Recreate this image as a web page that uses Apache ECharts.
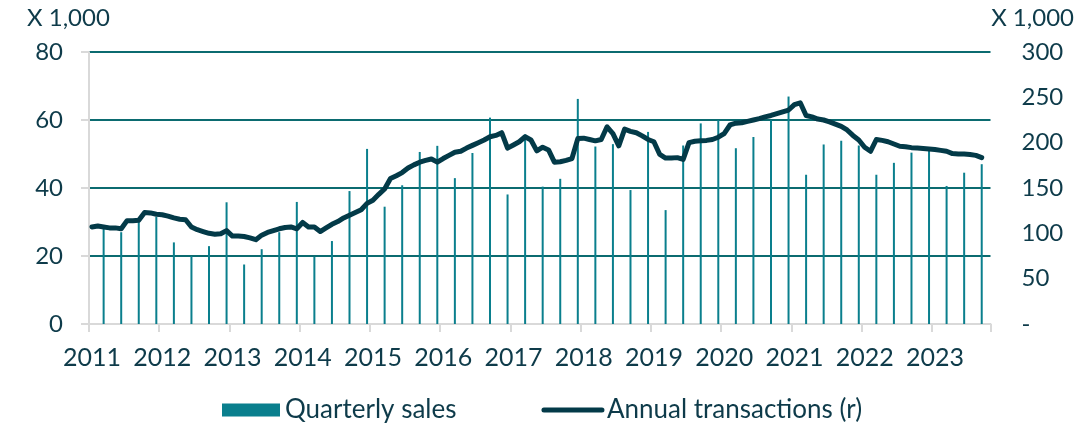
<!DOCTYPE html>
<html>
<head>
<meta charset="utf-8">
<script src="https://cdn.jsdelivr.net/npm/echarts@6/dist/echarts.min.js"></script>
<style>
  html, body { margin: 0; padding: 0; background: #ffffff; }
  #chart { width: 1076px; height: 423px; }
</style>
</head>
<body>
<div id="chart"></div>
<script>
// Year labels on the horizontal axis (one per January)
const yearLabels = ['2011', '2012', '2013', '2014', '2015', '2016', '2017',
                    '2018', '2019', '2020', '2021', '2022', '2023'];
// Number of monthly slots shown on the axis (Jan 2011 - Oct 2023)
const monthCount = 154;

// Quarterly sales (x 1,000), Q1 2011 - Q3 2023, left axis
const quarterlySales = [
  28.0, 27.0, 30.0, 31.5,   // 2011
  24.0, 20.0, 22.9, 35.8,   // 2012
  17.5, 22.0, 27.0, 35.9,   // 2013
  19.8, 24.4, 39.1, 51.5,   // 2014
  34.5, 40.8, 50.6, 52.4,   // 2015
  42.9, 50.3, 60.7, 38.1,   // 2016
  55.8, 40.4, 42.7, 66.2,   // 2017
  52.2, 52.9, 39.4, 56.5,   // 2018
  33.5, 52.5, 59.0, 60.0,   // 2019
  51.7, 55.0, 60.0, 66.9,   // 2020
  43.9, 52.8, 53.9, 52.5,   // 2021
  43.9, 47.4, 50.4, 52.0,   // 2022
  40.6, 44.5, 47.0          // 2023
];

// Annual (rolling 12-month) transactions (x 1,000), monthly, right axis
const annualTransactions = [
  107, 108, 107, 106, 106, 105, 114, 114, 114.5, 123, 122.5, 121,          // 2011
  120.5, 119, 117, 115.5, 115, 107, 104, 102, 100, 99, 99.5, 103,          // 2012
  97, 97, 96.5, 95, 93, 98, 101, 103, 105, 106.5, 107, 105,                // 2013
  112, 107, 107, 102, 106, 110, 113, 117, 120, 123, 126, 133,              // 2014
  136.5, 143, 149, 160.5, 163.5, 167, 172, 175.5, 178.5, 180.5, 182, 178.5, // 2015
  182.5, 186, 189.5, 190.5, 194, 197, 200, 203, 206.5, 208, 211, 194,      // 2016
  197.5, 201, 206.5, 203, 191, 195, 192, 178.5, 179, 180.5, 182.5, 204.5,  // 2017
  205, 203.5, 202, 203.5, 217.5, 210, 196.5, 215, 212.5, 211, 207.5, 203.5, // 2018
  201, 187, 183, 183, 183.5, 181.5, 200, 201.5, 202, 202.5, 203.5, 206,    // 2019
  210, 219.5, 221.5, 222, 223.5, 225, 226.5, 228.5, 230, 232, 234, 236,    // 2020
  242, 244, 230, 228.5, 226, 225, 223, 220.5, 218, 214, 208, 203,          // 2021
  195, 190.5, 203.5, 202.5, 201, 198.5, 196, 195.5, 194.5, 194, 193.5, 193, // 2022
  192.5, 191.5, 190.5, 188, 187.5, 187.5, 187, 186, 183.5                  // 2023
];

// Monthly category slots; the bar of each quarter sits on its last month
const months = [];
for (let i = 0; i < monthCount; i++) {
  const y = yearLabels[0] * 1 + Math.floor(i / 12);
  months.push(y + '-' + String(i % 12 + 1).padStart(2, '0'));
}
const barData = months.map(() => null);
quarterlySales.forEach((v, q) => { barData[q * 3 + 2] = v; });

const textColor = '#0e3b4a';
const lineColor = '#033a48';
const fontFamily = 'Lato';
const isJanuary = (index) => index % 12 === 0;

const chart = echarts.init(document.getElementById('chart'), null, { renderer: 'canvas' });
chart.setOption({
  animation: false,
  backgroundColor: '#ffffff',
  textStyle: { fontFamily: fontFamily, color: textColor },
  grid: { left: 89, right: 85.5, top: 52, bottom: 99, containLabel: false },
  legend: {
    left: 222,
    top: 397,
    padding: 0,
    itemGap: 85,
    itemWidth: 58,
    itemHeight: 13,
    textStyle: { fontFamily: fontFamily, fontSize: 26, color: textColor, lineHeight: 26 },
    data: [
      { name: 'Quarterly sales', icon: 'rect' },
      {
        name: 'Annual transactions (r)',
        itemStyle: { opacity: 0 },
        lineStyle: { color: lineColor, width: 5, cap: 'round' }
      }
    ]
  },
  graphic: [
    { type: 'text', left: 27, top: 6,
      style: { text: 'X 1,000', fontFamily: fontFamily, fontSize: 24, fill: textColor } },
    { type: 'text', right: 2, top: 6,
      style: { text: 'X 1,000', fontFamily: fontFamily, fontSize: 24, fill: textColor } }
  ],
  xAxis: {
    type: 'category',
    data: months,
    boundaryGap: true,
    axisLine: { show: true, lineStyle: { color: '#d9d9d9', width: 2 } },
    axisTick: {
      show: true, alignWithLabel: false, interval: isJanuary, length: 8,
      lineStyle: { color: '#d9d9d9', width: 2 }
    },
    axisLabel: {
      interval: isJanuary,
      margin: 21,
      fontSize: 25,
      fontFamily: fontFamily,
      color: textColor,
      formatter: (v) => v.slice(0, 4)
    },
    splitLine: { show: false }
  },
  yAxis: [
    {
      type: 'value',
      min: 0, max: 80, interval: 20,
      position: 'left',
      axisLine: { show: true, lineStyle: { color: '#d9d9d9', width: 2 } },
      axisTick: { show: true, length: 8, lineStyle: { color: '#d9d9d9', width: 2 } },
      axisLabel: { margin: 26, fontSize: 24, fontFamily: fontFamily, color: textColor },
      splitLine: { show: true, lineStyle: { color: '#0b6b70', width: 2 } }
    },
    {
      type: 'value',
      min: 0, max: 300, interval: 50,
      position: 'right',
      axisLine: { show: false },
      axisTick: { show: false },
      axisLabel: {
        margin: 31, fontSize: 24, fontFamily: fontFamily, color: textColor, align: 'left',
        formatter: (v) => (v === 0 ? '-' : String(v))
      },
      splitLine: { show: false }
    }
  ],
  series: [
    {
      name: 'Quarterly sales',
      type: 'bar',
      yAxisIndex: 0,
      data: barData,
      barWidth: 2,
      itemStyle: { color: '#0a7f8d' },
      z: 2
    },
    {
      name: 'Annual transactions (r)',
      type: 'line',
      yAxisIndex: 1,
      data: annualTransactions,
      symbol: 'none',
      showSymbol: false,
      lineStyle: { color: lineColor, width: 5, cap: 'round', join: 'round' },
      itemStyle: { color: lineColor },
      z: 3
    }
  ]
});
</script>
</body>
</html>
